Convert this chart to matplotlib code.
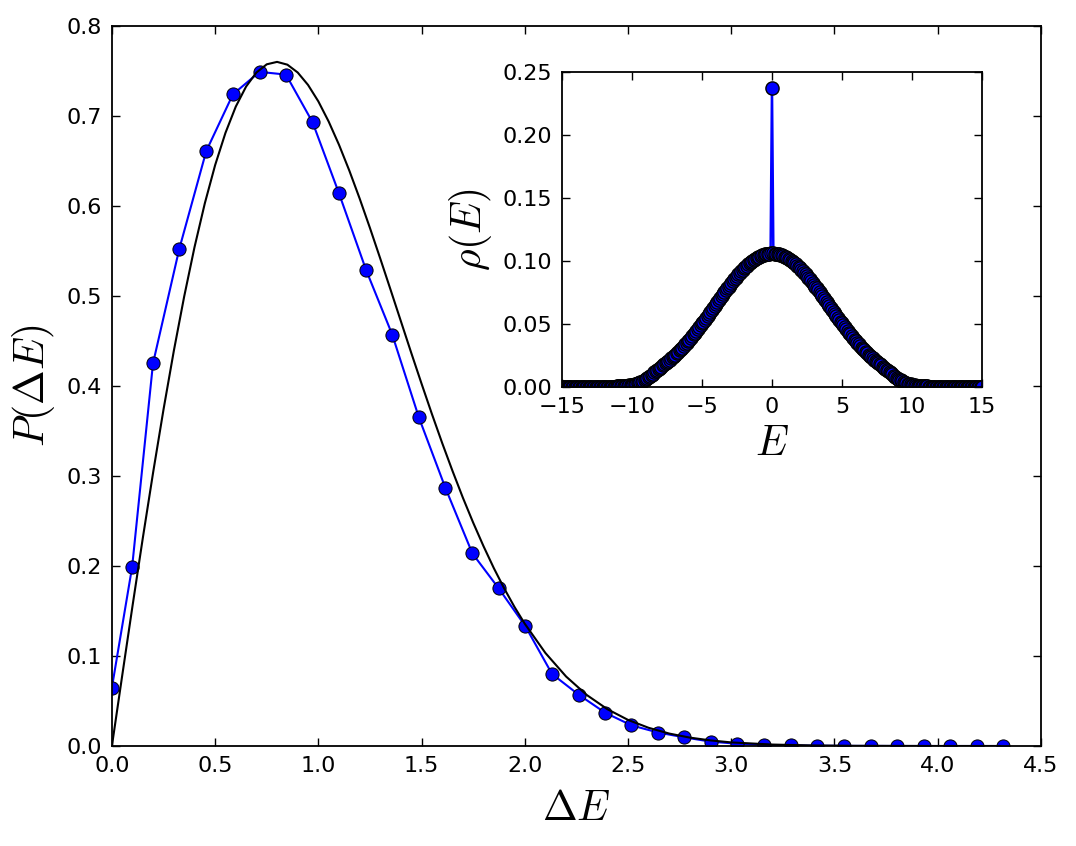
import numpy as np
import matplotlib
matplotlib.use("Agg")
import matplotlib.pyplot as plt

plt.rcParams['mathtext.fontset'] = 'cm'
plt.rcParams['font.family'] = 'DejaVu Sans'

# level spacing histogram (blue points)
dE = [0.0, 0.098, 0.199, 0.326, 0.457, 0.586, 0.715, 0.843, 0.972, 1.100,
      1.231, 1.358, 1.487, 1.615, 1.746, 1.874, 2.003, 2.132, 2.261, 2.389,
      2.516, 2.645, 2.773, 2.902, 3.030, 3.159, 3.288, 3.417, 3.546, 3.675,
      3.804, 3.932, 4.061, 4.190, 4.318]
p_dE = [0.065, 0.199, 0.425, 0.552, 0.661, 0.724, 0.749, 0.746, 0.693, 0.614,
        0.529, 0.457, 0.365, 0.287, 0.214, 0.175, 0.133, 0.080, 0.057, 0.037,
        0.023, 0.015, 0.0096, 0.0048, 0.0025, 0.0012, 0.0006, 0.0003, 0.0001, 0.0001,
        0.0, 0.0, 0.0, 0.0, 0.0]

# black reference curve
s_curve = [0.0, 0.05, 0.1, 0.15, 0.2, 0.25, 0.3, 0.35, 0.4, 0.45, 0.5, 0.55,
           0.6, 0.65, 0.7, 0.75, 0.8, 0.85, 0.9, 0.95, 1.0, 1.05, 1.1, 1.15, 1.2,
           1.25, 1.3, 1.35, 1.4, 1.45, 1.5, 1.55, 1.6, 1.65, 1.7, 1.75, 1.8, 1.85,
           1.9, 1.95, 2.0, 2.1, 2.2, 2.3, 2.4, 2.5, 2.6, 2.7, 2.8,
           2.9, 3.0, 3.2, 3.4, 3.6, 3.8, 4.0, 4.3]
p_curve = [0.0, 0.0784, 0.1559, 0.2315, 0.3044, 0.3739, 0.4391, 0.4993, 0.5541,
           0.6029, 0.6454, 0.6812, 0.7104, 0.7327, 0.7483, 0.7574, 0.7601, 0.7570,
           0.7483, 0.7345, 0.7162, 0.6938, 0.6680, 0.6393, 0.6083, 0.5755, 0.5415,
           0.5068, 0.4718, 0.4368, 0.4025, 0.3689, 0.3365, 0.3055, 0.2759, 0.2481,
           0.2220, 0.1976, 0.1752, 0.1545, 0.1358, 0.1033, 0.0772, 0.0567, 0.0409,
           0.0290, 0.0202, 0.0138, 0.0093, 0.0062, 0.0040, 0.0016, 0.0006, 0.0002,
           0.0001, 0.0, 0.0]

# inset: density of states, E from -15 to 15 in steps of 0.1
E_vals = np.arange(-150, 151) / 10.0
rho_left = [0, 0, 0, 0, 0, 0, 0, 0, 0, 0,
            0, 0, 0, 0, 0, 0, 0, 0, 0, 0,
            0.0001, 0.0001, 0.0001, 0.0001, 0.0001, 0.0001, 0.0001, 0.0001, 0.0001, 0.0001,
            0.0001, 0.0001, 0.0002, 0.0002, 0.0002, 0.0002, 0.0003, 0.0003, 0.0003, 0.0004,
            0.0004, 0.0005, 0.0005, 0.0006, 0.0007, 0.0008, 0.0010, 0.0011, 0.0013, 0.0015,
            0.0015, 0.0018, 0.0021, 0.0024, 0.0028, 0.0032, 0.0037, 0.0043, 0.0049, 0.0056,
            0.0063, 0.0071, 0.0079, 0.0087, 0.0096, 0.0105, 0.0115, 0.0125, 0.0134, 0.0144,
            0.0153, 0.0162, 0.0171, 0.0180, 0.0190, 0.0199, 0.0208, 0.0217, 0.0227, 0.0237,
            0.0247, 0.0257, 0.0268, 0.0279, 0.0290, 0.0301, 0.0313, 0.0325, 0.0338, 0.0350,
            0.0363, 0.0376, 0.0389, 0.0403, 0.0417, 0.0431, 0.0445, 0.0459, 0.0474, 0.0489,
            0.0504, 0.0519, 0.0534, 0.0549, 0.0565, 0.0580, 0.0596, 0.0611, 0.0627, 0.0643,
            0.0659, 0.0674, 0.0690, 0.0705, 0.0721, 0.0736, 0.0751, 0.0767, 0.0782, 0.0796,
            0.0811, 0.0825, 0.0839, 0.0853, 0.0867, 0.0880, 0.0893, 0.0906, 0.0918, 0.0930,
            0.0941, 0.0952, 0.0963, 0.0973, 0.0982, 0.0991, 0.1000, 0.1008, 0.1016, 0.1022,
            0.1029, 0.1035, 0.1040, 0.1045, 0.1049, 0.1052, 0.1055, 0.1057, 0.1059, 0.1060]
rho_zero = [0.237]
rho_right = [0.1060, 0.1059, 0.1057, 0.1055, 0.1052, 0.1049, 0.1045, 0.1040, 0.1035, 0.1029,
             0.1022, 0.1016, 0.1008, 0.1000, 0.0991, 0.0982, 0.0973, 0.0963, 0.0952, 0.0941,
             0.0930, 0.0918, 0.0906, 0.0893, 0.0880, 0.0867, 0.0853, 0.0839, 0.0825, 0.0811,
             0.0796, 0.0782, 0.0767, 0.0751, 0.0736, 0.0721, 0.0705, 0.0690, 0.0674, 0.0659,
             0.0643, 0.0627, 0.0611, 0.0596, 0.0580, 0.0565, 0.0549, 0.0534, 0.0519, 0.0504,
             0.0489, 0.0474, 0.0459, 0.0445, 0.0431, 0.0417, 0.0403, 0.0389, 0.0376, 0.0363,
             0.0350, 0.0338, 0.0325, 0.0313, 0.0301, 0.0290, 0.0279, 0.0268, 0.0257, 0.0247,
             0.0237, 0.0227, 0.0217, 0.0208, 0.0199, 0.0190, 0.0180, 0.0171, 0.0162, 0.0153,
             0.0144, 0.0135, 0.0126, 0.0117, 0.0108, 0.0099, 0.0090, 0.0082, 0.0074, 0.0066,
             0.0059, 0.0052, 0.0046, 0.0040, 0.0035, 0.0031, 0.0027, 0.0024, 0.0020, 0.0017,
             0.0015, 0.0013, 0.0011, 0.0010, 0.0008, 0.0007, 0.0006, 0.0005, 0.0005, 0.0004,
             0.0004, 0.0003, 0.0003, 0.0003, 0.0002, 0.0002, 0.0002, 0.0002, 0.0001, 0.0001,
             0.0001, 0.0001, 0.0001, 0.0001, 0.0001, 0.0001, 0.0001, 0.0001, 0.0001, 0.0001,
             0, 0, 0, 0, 0, 0, 0, 0, 0, 0,
             0, 0, 0, 0, 0, 0, 0, 0, 0, 0]
rho_vals = rho_left + rho_zero + rho_right


def style_axes(ax):
    ax.tick_params(direction='in', top=True, right=True, length=6, width=1,
                   labelsize=16, pad=7)
    for sp in ax.spines.values():
        sp.set_linewidth(1.3)


fig = plt.figure(figsize=(10.76, 8.46), dpi=100)
ax = fig.add_axes([0.104, 0.1182, 0.8634, 0.8511])
ax.plot(dE, p_dE, '-o', color='blue', lw=1.5, ms=9.5, mec='black', mew=0.7)
ax.plot(s_curve, p_curve, '-', color='black', lw=1.5)
ax.set_xlim(0, 4.5)
ax.set_ylim(0, 0.8)
ax.set_xticks(np.arange(0, 4.51, 0.5))
ax.set_yticks(np.arange(0, 0.81, 0.1))
style_axes(ax)
ax.set_xlabel(r'$\Delta E$', fontsize=30, labelpad=8)
ax.set_ylabel(r'$P(\Delta E)$', fontsize=30, labelpad=7)

ins = fig.add_axes([0.5223, 0.5426, 0.3903, 0.3723])
ins.plot(E_vals, rho_vals, '-o', color='blue', lw=1.8, ms=9.5, mec='black', mew=1.0)
ins.set_xlim(-15, 15)
ins.set_ylim(0, 0.25)
ins.set_xticks(np.arange(-15, 15.1, 5))
ins.set_yticks(np.arange(0, 0.251, 0.05))
style_axes(ins)
ins.set_xlabel(r'$E$', fontsize=30, labelpad=4)
ins.set_ylabel(r'$\rho(E)$', fontsize=30, labelpad=6)

fig.savefig('out.png', dpi=100)
